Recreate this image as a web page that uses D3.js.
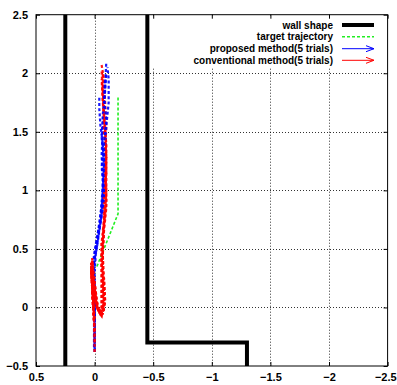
<!DOCTYPE html>
<html>
<head>
<meta charset="utf-8">
<script src="https://cdn.jsdelivr.net/npm/d3@7"></script>
<style>
body{margin:0;background:#fff;}
text{font-family:"Liberation Sans",Arial,sans-serif;font-weight:bold;}
</style>
</head>
<body>
<svg id="c" width="397" height="385"></svg>
<script>
// ---- data ----
const xTicks = [0.5, 0, -0.5, -1, -1.5, -2, -2.5];
const yTicks = [-0.5, 0, 0.5, 1, 1.5, 2, 2.5];
const legendLabels = ["wall shape", "target trajectory", "proposed method(5 trials)", "conventional method(5 trials)"];

const wallLeft = [[0.25, -0.5], [0.25, 2.5]];
const wallRight = [[-0.45, 2.5], [-0.45, -0.3], [-1.3, -0.3], [-1.3, -0.5]];
const target = [[-0.02, 0.35], [-0.2, 0.8], [-0.2, 1.8]];

const proposed = [
  [[0,-0.38],[0,-0.2],[0.0,0.0],[0.0,0.2],[0.01,0.35],[-0.01,0.5],[-0.03,0.65],[-0.05,0.8],[-0.07,0.95],[-0.07,1.1],[-0.06,1.3],[-0.07,1.5],[-0.08,1.7],[-0.09,1.9],[-0.1,2.1]],
  [[0.0,-0.36],[0.0,0.0],[0.0,0.3],[-0.01,0.45],[-0.04,0.65],[-0.06,0.8],[-0.07,1.0],[-0.08,1.2],[-0.07,1.4],[-0.05,1.55],[-0.04,1.7],[-0.04,1.8]],
  [[0,-0.3],[0,0.1],[0.01,0.3],[0.0,0.45],[-0.03,0.6],[-0.06,0.78],[-0.08,0.95],[-0.08,1.15],[-0.09,1.35],[-0.1,1.55],[-0.12,1.75],[-0.12,1.95],[-0.11,2.05]],
  [[0.005,-0.34],[0.005,0.05],[0.02,0.33],[0.0,0.48],[-0.02,0.6],[-0.05,0.75],[-0.06,0.9],[-0.07,1.05],[-0.08,1.25],[-0.06,1.45],[-0.07,1.65],[-0.09,1.85],[-0.1,2.0]],
  [[0,-0.25],[0,0.15],[0.01,0.35],[-0.02,0.52],[-0.04,0.68],[-0.07,0.85],[-0.08,1.0],[-0.06,1.2],[-0.08,1.4],[-0.1,1.6],[-0.08,1.8],[-0.09,1.95]]
];

const conventional = [
  [[0,-0.38],[0,-0.2],[0.01,0.0],[0.02,0.2],[0.03,0.38],[0.02,0.3],[0.0,0.15],[-0.02,0.0],[-0.05,-0.06],[-0.08,-0.02],[-0.08,0.15],[-0.07,0.35],[-0.07,0.55],[-0.08,0.75],[-0.09,0.95],[-0.09,1.15],[-0.09,1.35],[-0.1,1.55],[-0.09,1.75],[-0.08,1.95],[-0.06,2.07]],
  [[0.0,-0.3],[0.01,0.1],[0.03,0.3],[0.02,0.42],[0.01,0.25],[-0.01,0.05],[-0.04,-0.04],[-0.07,-0.05],[-0.09,0.05],[-0.08,0.25],[-0.07,0.45],[-0.08,0.65],[-0.1,0.85],[-0.1,1.05],[-0.1,1.25],[-0.09,1.45],[-0.08,1.65],[-0.07,1.85],[-0.07,2.0]],
  [[0.0,-0.2],[0.02,0.1],[0.025,0.35],[0.01,0.2],[-0.01,0.02],[-0.05,-0.03],[-0.07,0.0],[-0.07,0.2],[-0.06,0.4],[-0.07,0.6],[-0.09,0.8],[-0.1,1.0],[-0.09,1.2],[-0.1,1.4],[-0.08,1.6],[-0.07,1.8],[-0.06,2.02]],
  [[0.0,-0.1],[0.02,0.15],[0.03,0.33],[0.0,0.18],[-0.02,0.0],[-0.06,-0.07],[-0.08,0.05],[-0.07,0.3],[-0.07,0.5],[-0.08,0.7],[-0.1,0.9],[-0.09,1.1],[-0.1,1.3],[-0.08,1.5],[-0.08,1.7],[-0.07,1.9]],
  [[0.01,0.0],[0.02,0.25],[0.02,0.4],[0.0,0.22],[-0.02,0.05],[-0.04,-0.04],[-0.06,-0.03],[-0.06,0.15],[-0.06,0.35],[-0.06,0.55],[-0.08,0.75],[-0.08,0.95],[-0.1,1.15],[-0.1,1.35],[-0.09,1.55],[-0.07,1.75],[-0.06,1.95]]
];

// ---- layout ----
const W = 397, H = 385;
const m = {l: 36, r: 9.4, t: 14.7, b: 19};
const svg = d3.select("#c");
const x = d3.scaleLinear().domain([0.5, -2.5]).range([m.l, W - m.r]);
const y = d3.scaleLinear().domain([-0.5, 2.5]).range([H - m.b, m.t]);
const line = d3.line().x(d => x(d[0])).y(d => y(d[1]));

// grid
const g = svg.append("g");
g.selectAll(".gx").data(xTicks.slice(1, -1)).join("line")
  .attr("x1", d => Math.round(x(d)) + 0.5).attr("x2", d => Math.round(x(d)) + 0.5)
  .attr("y1", y(2.5)).attr("y2", y(-0.5))
  .attr("stroke", "#000").attr("stroke-width", 1).attr("stroke-dasharray", "1,2").attr("opacity", 0.8);
g.selectAll(".gy").data(yTicks.slice(1, -1)).join("line")
  .attr("y1", d => Math.round(y(d)) + 0.5).attr("y2", d => Math.round(y(d)) + 0.5)
  .attr("x1", x(0.5)).attr("x2", x(-2.5))
  .attr("stroke", "#000").attr("stroke-width", 1).attr("stroke-dasharray", "1,2").attr("opacity", 0.8);

// opaque legend box
svg.append("rect").attr("x", 149).attr("y", y(2.5) + 1).attr("width", x(-2.5) - 150).attr("height", 52).attr("fill", "#fff");

// axes (ticks inward, mirrored)
const tickLen = 4;
const fmt = d => d3.format(".1~f")(d).replace("-", "−");
const axB = d3.axisBottom(x).tickValues(xTicks).tickSize(-tickLen).tickPadding(7).tickFormat(fmt);
const axL = d3.axisLeft(y).tickValues(yTicks).tickSize(-tickLen).tickPadding(8).tickFormat(fmt);
const axT = d3.axisTop(x).tickValues(xTicks).tickSize(-tickLen).tickFormat("");
const axR = d3.axisRight(y).tickValues(yTicks).tickSize(-tickLen).tickFormat("");
function style(sel) {
  sel.select(".domain").remove();
  sel.selectAll("line").attr("stroke", "#000");
  sel.selectAll("text").attr("fill", "#000").style("font-size", "11px").style("font-weight", "bold");
}
const gB = svg.append("g").attr("transform", `translate(0,${y(-0.5)})`).call(axB).call(style);
gB.selectAll("text").filter(d => d === -2.5).attr("text-anchor", "end").attr("dx", 8.5);
svg.append("g").attr("transform", `translate(${x(0.5)},0)`).call(axL).call(style);
svg.append("g").attr("transform", `translate(0,${y(2.5)})`).call(axT).call(style);
svg.append("g").attr("transform", `translate(${x(-2.5)},0)`).call(axR).call(style);
svg.append("rect").attr("x", x(0.5)).attr("y", y(2.5)).attr("width", x(-2.5) - x(0.5)).attr("height", y(-0.5) - y(2.5))
  .attr("fill", "none").attr("stroke", "#000").attr("stroke-width", 1);

// walls
[wallLeft, wallRight].forEach(w => svg.append("path").attr("d", line(w)).attr("fill", "none")
  .attr("stroke", "#000").attr("stroke-width", 4).attr("stroke-linejoin", "miter"));

// target
svg.append("path").attr("d", line(target)).attr("fill", "none").attr("stroke", "#22ee22")
  .attr("stroke-width", 1.6).attr("stroke-dasharray", "3,2");

// trials (interleaved red/blue)
function drawTrial(tr, color) {
  svg.append("path").attr("d", line(tr)).attr("fill", "none")
    .attr("stroke", color).attr("stroke-width", 2.2).attr("stroke-dasharray", "3,2.2").attr("opacity", 0.9);
}
proposed.forEach((tr, i) => { drawTrial(conventional[i], "#ff0000"); drawTrial(tr, "#0000ff"); });
// red lower loop on top
conventional.forEach(tr => drawTrial(tr.slice(0, 10), "#ff0000"));

// legend
const lg = svg.append("g");
const rowY = [25, 36.7, 48.7, 60.3];
const colors = ["#000", "#22ee22", "#0000ff", "#ff0000"];
legendLabels.forEach((t, i) => {
  lg.append("text").attr("x", 333).attr("y", rowY[i] + 3.5).attr("text-anchor", "end")
    .style("font-size", "10px").attr("fill", "#000").text(t);
  const ln = lg.append("line").attr("x1", 342).attr("x2", 374).attr("y1", rowY[i]).attr("y2", rowY[i])
    .attr("stroke", colors[i]);
  if (i === 0) ln.attr("stroke-width", 4);
  if (i === 1) ln.attr("stroke-width", 1.6).attr("stroke-dasharray", "3,2");
  if (i >= 2) {
    ln.attr("stroke-width", 1);
    lg.append("path").attr("d", `M366,${rowY[i] - 3} L374,${rowY[i]} L366,${rowY[i] + 3}`)
      .attr("fill", "none").attr("stroke", colors[i]).attr("stroke-width", 1);
  }
});
</script>
</body>
</html>
